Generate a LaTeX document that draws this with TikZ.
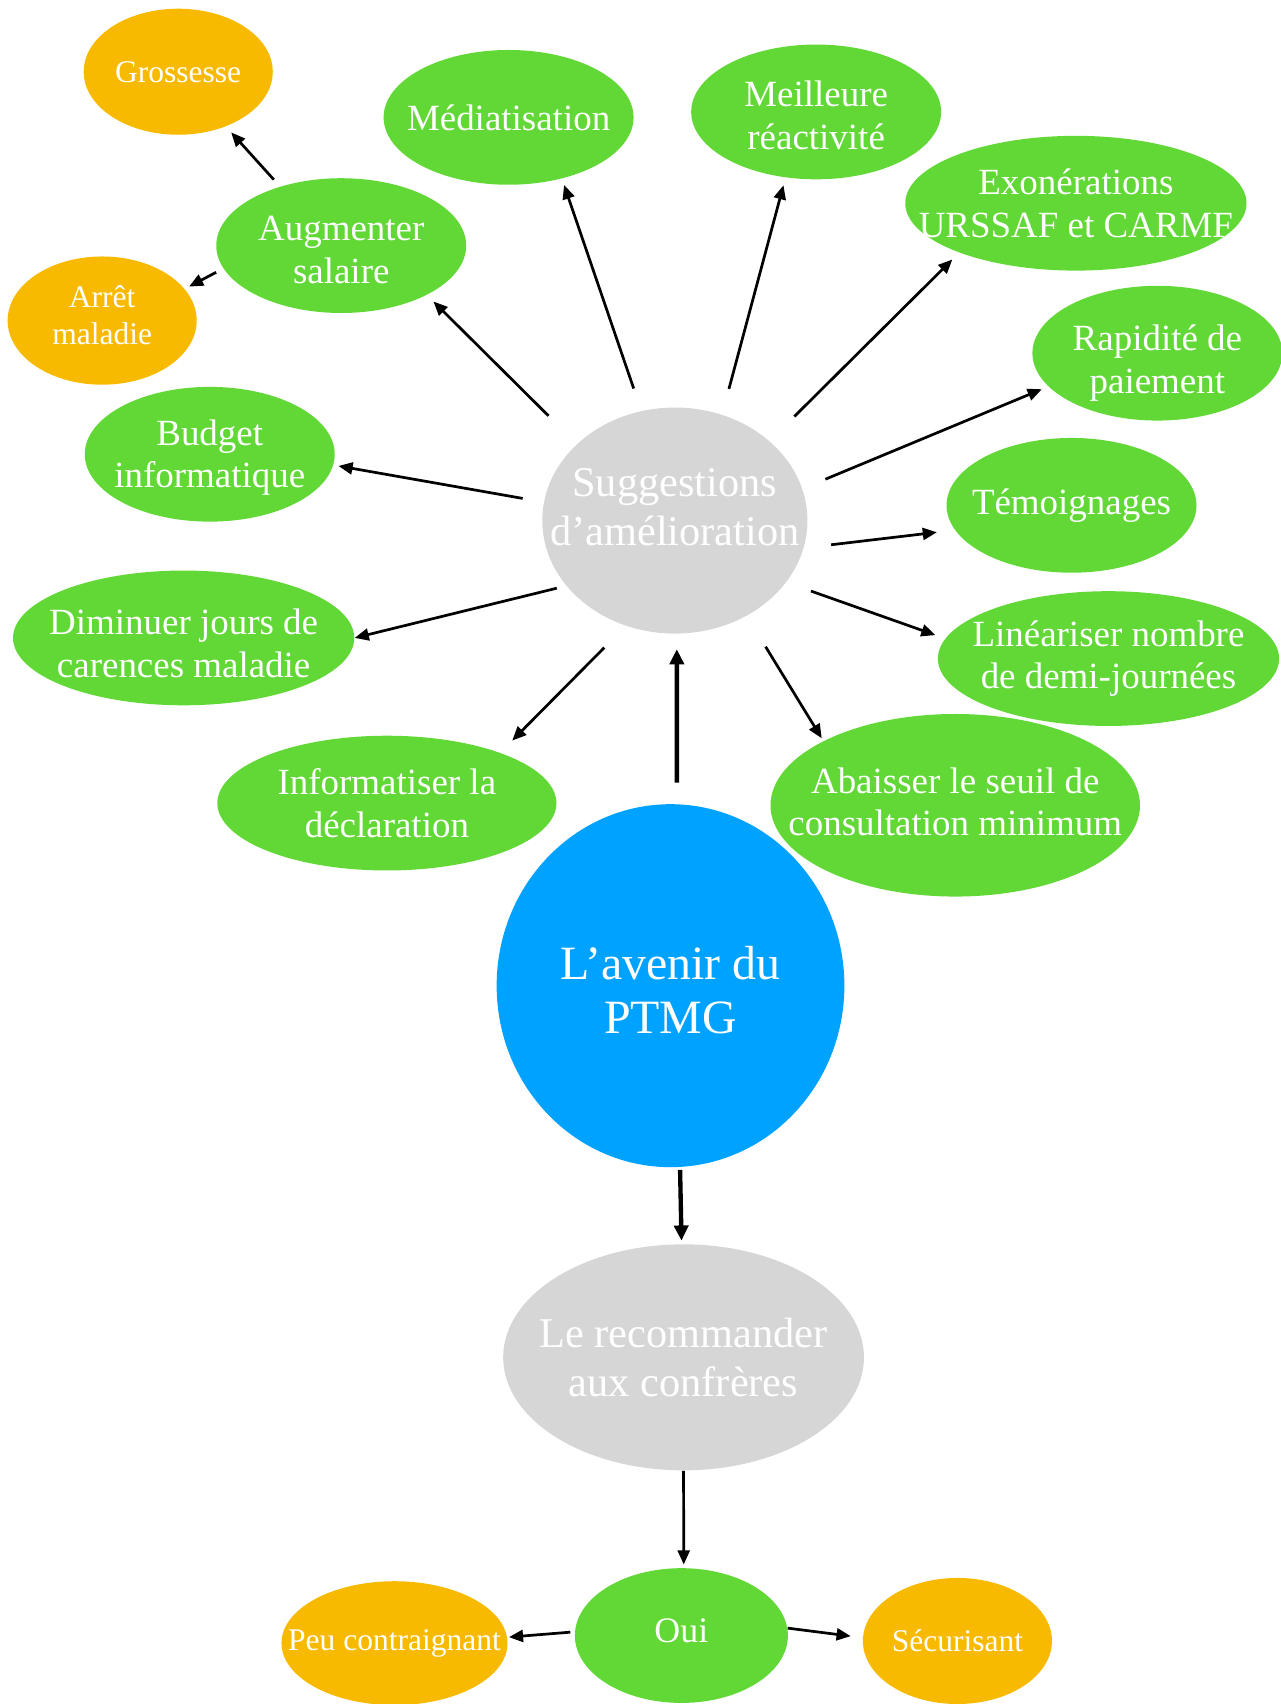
\documentclass[tikz,border=0pt]{standalone}
\usepackage{fontspec}
\setmainfont{Liberation Serif}
\usetikzlibrary{arrows.meta, shapes.geometric}
\definecolor{cgreen}{HTML}{61D836}
\definecolor{corange}{HTML}{F8BA00}
\definecolor{cblue}{HTML}{00A2FF}
\definecolor{cgrey}{HTML}{D6D6D6}
\tikzset{
  leaf/.style={ellipse, fill=cgreen, inner sep=0pt, minimum width=115pt, minimum height=62pt},
  wideleaf/.style={leaf, minimum width=157pt},
  side/.style={ellipse, fill=corange, inner sep=0pt, minimum width=87pt, minimum height=58pt},
  hub/.style={ellipse, fill=#1, inner sep=0pt},
  hub/.default=cgrey,
  txt/.style={text=white, align=center, font=\fontsize{17}{19.5}\selectfont},
  smalltxt/.style={txt, font=\fontsize{14.5}{17}\selectfont},
  bigtxt/.style={txt, font=\fontsize{19.5}{22.5}\selectfont},
  arr/.style={-{Triangle[length=6.5pt, width=5.5pt]}, line width=1.25pt},
  thickarr/.style={-{Triangle[length=7pt, width=6.5pt]}, line width=2pt},
}

\begin{document}
\begin{tikzpicture}[x=0.5pt, y=-0.5pt]
  \useasboundingbox (0,0) rectangle (1178,1568);
  % the suggestions around the grey hub
  \node[leaf, label={[txt]center:Médiatisation}] (med) at (468,108) {};
  \node[leaf, label={[txt, yshift=-1.5pt]center:Meilleure\\réactivité}] (mei) at (751,103) {};
  \node[wideleaf, label={[txt]center:Exonérations\\URSSAF et CARMF}] (exo) at (990,187) {};
  \node[leaf, label={[txt, yshift=-2pt]center:Augmenter\\salaire}] (aug) at (314,226) {};
  \node[leaf, label={[txt, yshift=-4.5pt]center:Rapidité de\\paiement}] (rap) at (1065,325) {};
  \node[leaf, label={[txt, yshift=-1.5pt]center:Budget\\informatique}] (bud) at (193,418) {};
  \node[leaf, label={[txt]center:Témoignages}] (tem) at (986,465) {};
  \node[wideleaf, label={[txt, yshift=-2.5pt]center:Diminuer jours de\\carences maladie}] (dim) at (169,587) {};
  \node[wideleaf, label={[txt]center:Linéariser nombre\\de demi-journées}] (lin) at (1020,606) {};
  \node[wideleaf, minimum width=156pt, label={[txt]center:Informatiser la\\déclaration}] (inf) at (356,739) {};
  \node[wideleaf, minimum width=170pt, minimum height=84pt, label={[txt, yshift=1.5pt]center:Abaisser le seuil de\\consultation minimum}] (aba) at (879,741) {};
  \node[side, label={[smalltxt]center:Grossesse}] (gro) at (164,66) {};
  \node[side, minimum height=59pt, label={[smalltxt, yshift=2.5pt]center:Arrêt\\maladie}] (arret) at (94,295) {};
  \node[hub, minimum width=122pt, minimum height=104pt, label={[bigtxt, yshift=6pt]center:Suggestions\\d’amélioration}] (sug) at (621,479) {};
  % the main question and the recommendation
  \node[hub=cblue, minimum width=160pt, minimum height=167pt, label={[txt, font=\fontsize{22}{25}\selectfont, yshift=-2pt]center:L’avenir du\\PTMG}] (av) at (617,907) {};
  \node[hub, minimum width=166pt, minimum height=104pt, label={[bigtxt]center:Le recommander\\aux confrères}] (rec) at (629,1249) {};
  \node[leaf, minimum width=98pt, label={[txt, font=\fontsize{16.5}{19}\selectfont, yshift=2pt]center:Oui}] (oui) at (627,1505) {};
  \node[side, minimum width=104pt, minimum height=57pt, label={[smalltxt]center:Peu contraignant}] (peu) at (363,1512) {};
  \node[side, label={[smalltxt]center:Sécurisant}] (sec) at (881,1510) {};

  \draw[arr, shorten <=18.3pt, shorten >=4.2pt] (sug.142) -- (aug.-30);
  \draw[arr, shorten <=10.8pt, shorten >=3pt] (sug.107) -- (med.-49.5);
  \draw[arr, shorten <=12.2pt, shorten >=3.6pt] (sug.66.3) -- (mei.-115.9);
  \draw[arr, shorten <=16pt, shorten >=4.4pt] (sug.40.4) -- (exo.-157.4);
  \draw[arr, shorten <=11.4pt, shorten >=3.2pt] (sug.14) -- (rap.-163.7);
  \draw[arr, shorten <=12.6pt, shorten >=8.3pt] (sug.-12.6) -- (tem.-168.5);
  \draw[arr, shorten <=12pt, shorten >=4.7pt] (sug.-29.8) -- (lin.173.7);
  \draw[arr, shorten <=16.6pt, shorten >=1.4pt] (sug.-53.2) -- (aba.154.2);
  \draw[arr, shorten <=14pt, shorten >=7.8pt] (sug.-115.7) -- (inf.24.7);
  \draw[arr, shorten <=4.4pt] (sug.-149.7) -- (dim.0);
  \draw[arr, shorten <=9.8pt, shorten >=2.3pt] (sug.172.7) -- (bud.-5.1);
  \draw[arr, shorten <=4.2pt, shorten >=3.6pt] (aug.136.9) -- (gro.-49.5);
  \draw[arr, shorten <=3.7pt, shorten >=2.2pt] (aug.-169.2) -- (arret.21.8);
  \draw[thickarr, shorten <=9.8pt, shorten >=7pt] (av.88) -- (sug.-89);
  \draw[thickarr, shorten <=1.2pt, shorten >=1.5pt] (av.-87) -- (rec.91);
  \draw[arr, shorten >=1.5pt] (rec.-90) -- (oui.88);
  \draw[arr, shorten <=2pt, shorten >=0.7pt] (oui.178) -- (peu.3);
  \draw[arr, shorten >=5.5pt] (oui.4.7) -- (sec.178);
\end{tikzpicture}
\end{document}
